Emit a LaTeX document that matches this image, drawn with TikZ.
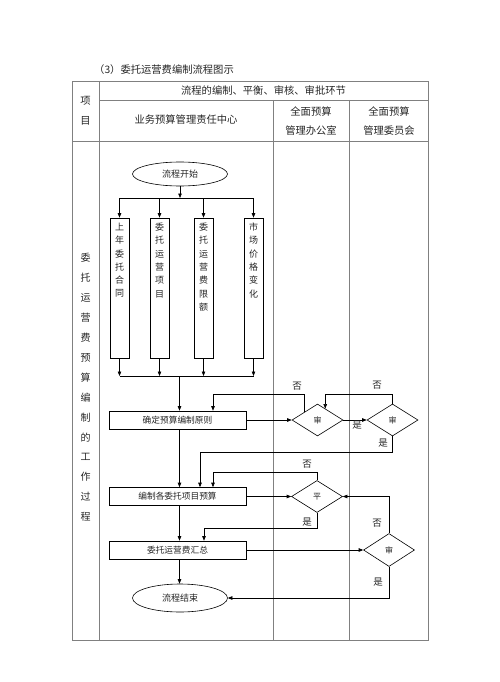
\documentclass[tikz,border=0pt]{standalone}
\usepackage{fontspec}
\setmainfont{Noto Sans CJK SC}
\usetikzlibrary{arrows.meta,shapes.geometric,calc}
\newcommand\boxchars[1]{\parbox[c][130pt][t]{12pt}{\centering\fontsize{9}{13.3}\selectfont #1}}
\begin{document}
\begin{tikzpicture}[x=1pt,y=-1pt,
  tline/.style={draw=black!50,line width=0.5pt},
  fline/.style={draw=black,line width=0.6pt},
  arr/.style={fline,-{Triangle[length=4.5pt,width=3.5pt]}},
  hdr/.style={text=black!85,font=\fontsize{10.3}{12}\selectfont,inner sep=0pt},
  procbox/.style={fline,rectangle,minimum width=137pt,minimum height=18pt,inner sep=0pt,text=black!85,font=\fontsize{8.7}{10}\selectfont},
  vbox/.style={fline,rectangle,minimum width=19pt,minimum height=140pt,inner sep=0pt,text=black!85},
  term/.style={fline,ellipse,minimum width=95pt,inner sep=0pt,text=black!85,font=\fontsize{9}{10}\selectfont},
  dia/.style={fline,diamond,minimum width=51pt,minimum height=32pt,inner sep=0pt,text=black!85,font=\fontsize{8}{9}\selectfont},
  lbl/.style={text=black!85,font=\fontsize{9.5}{10}\selectfont,inner sep=0pt}]
\useasboundingbox (0,0) rectangle (500,682);
\fill[white] (0,0) rectangle (500,682);
% table
\draw[tline] (72,81) rectangle (428,640);
\draw[tline] (99,81) -- (99,640);
\draw[tline] (99,100) -- (428,100);
\draw[tline] (72,141) -- (428,141);
\draw[tline] (273,100) -- (273,640);
\draw[tline] (349,100) -- (349,640);
% header texts
\node[hdr,anchor=west] (title) at (94,70) {（3）委托运营费编制流程图示};
\node[hdr] (hproc) at (263.5,90.5) {流程的编制、平衡、审核、审批环节};
\node[hdr,align=center,font=\fontsize{10.3}{20}\selectfont] (hitem) at (85.5,110.5) {项\\目};
\node[hdr] (hbiz) at (186,120) {业务预算管理责任中心};
\node[hdr,align=center,font=\fontsize{10.3}{18.5}\selectfont] (hoff) at (311,121) {全面预算\\管理办公室};
\node[hdr,align=center,font=\fontsize{10.3}{18.5}\selectfont] (hcom) at (389,121) {全面预算\\管理委员会};
\node[hdr,align=center,font=\fontsize{10}{19.9}\selectfont] (side) at (85.5,387.5) {委\\托\\运\\营\\费\\预\\算\\编\\制\\的\\工\\作\\过\\程};
% flow nodes
\node[term,minimum height=24pt] (start) at (180,174) {流程开始};
\node[vbox] (b1) at (119.5,288) {\boxchars{上\\年\\委\\托\\合\\同}};
\node[vbox] (b2) at (159.5,288) {\boxchars{委\\托\\运\\营\\项\\目}};
\node[vbox] (b3) at (203.5,288) {\boxchars{委\\托\\运\\营\\费\\限\\额}};
\node[vbox] (b4) at (253.5,288) {\boxchars{市\\场\\价\\格\\变\\化}};
\node[procbox] (c1) at (177.5,420) {确定预算编制原则};
\node[dia] (d1) at (317.5,420) {审};
\node[dia] (d2) at (392.5,420) {审};
\node[procbox] (c2) at (177.5,496.5) {编制各委托项目预算};
\node[dia] (d3) at (317,496.5) {平};
\node[procbox] (c3) at (177.5,550) {委托运营费汇总};
\node[dia,minimum height=33pt] (d4) at (389,550) {审};
\node[term,minimum height=28pt] (end) at (180,598) {流程结束};
% coordinates
\coordinate (bar1) at (180,198);
\coordinate (bar2) at (179.5,376);
\coordinate (k1) at (213,394);
\coordinate (k2) at (0,394);
\coordinate (k3) at (200,452);
\coordinate (k4) at (213,472);
\coordinate (k5) at (204,528);
% connectors: start to boxes
\draw[arr] (start.south) -- (bar1);
\draw[fline] (b1.north |- bar1) -- (b4.north |- bar1);
\foreach \b in {b1,b2,b3,b4} {
  \draw[arr] (\b.north |- bar1) -- (\b.north);
  \draw[arr] (\b.south) -- (\b.south |- bar2);
}
\draw[fline] (b1.south |- bar2) -- (b4.south |- bar2);
\draw[arr] (bar2) -- (bar2 |- c1.north);
% first review
\draw[arr] (c1.east) -- (d1.west);
\draw[arr] (d1.east) -- (d2.west);
\draw[arr] ($(d1.west)!.5!(d1.north)$) |- (k1) -- (k1 |- c1.north);
\draw[arr] (d2.north) -- (d2.north |- k2) -| ($(d1.north)!.3!(d1.east)$);
\draw[arr] (d2.south) |- (k3) -- (k3 |- c2.north);
% second stage
\draw[arr] (bar2 |- c1.south) -- (bar2 |- c2.north);
\draw[arr] (c2.east) -- (d3.west);
\draw[arr] (d3.north) |- (k4) -- (k4 |- c2.north);
\draw[arr] (d3.south) |- (k5) -- (k5 |- c3.north);
\draw[arr] (bar2 |- c2.south) -- (bar2 |- c3.north);
\draw[arr] (c3.east) -- (d4.west);
\draw[arr] (d4.north) |- (d3.east);
\draw[arr] (d4.south) |- (end.east);
\draw[arr] (bar2 |- c3.south) -- (bar2 |- end.north);
% labels
\node[lbl] (n1) at (297,386) {否};
\node[lbl] (n2) at (377,385) {否};
\node[lbl] (y1) at (357,425) {是};
\node[lbl] (y2) at (383,443) {是};
\node[lbl] (n3) at (307,464) {否};
\node[lbl] (y3) at (307,522) {是};
\node[lbl] (n4) at (377,523) {否};
\node[lbl] (y4) at (378,582) {是};
\end{tikzpicture}
\end{document}
